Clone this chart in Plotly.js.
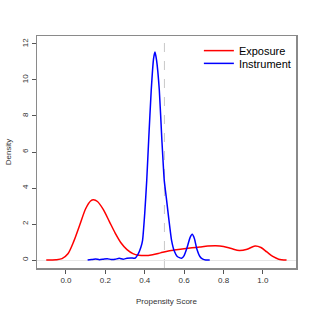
<!DOCTYPE html>
<html>
<head>
<meta charset="utf-8">
<script src="https://cdn.plot.ly/plotly-3.0.1.min.js"></script>
<style>html,body{margin:0;padding:0;background:#fff;}#chart{width:315px;height:315px;}</style>
</head>
<body>
<div id="chart"></div>
<script>
// Exposure propensity score density
const exposureX = [-0.10, -0.05, -0.02, 0.01, 0.04, 0.07, 0.10, 0.125, 0.14, 0.16, 0.19, 0.22, 0.25, 0.28, 0.31, 0.34, 0.37, 0.40, 0.44, 0.48, 0.52, 0.56, 0.60, 0.64, 0.68, 0.72, 0.76, 0.80, 0.84, 0.88, 0.92, 0.96, 0.99, 1.02, 1.05, 1.08, 1.12];
const exposureY = [0.0, 0.02, 0.08, 0.35, 1.05, 1.95, 2.85, 3.28, 3.35, 3.25, 2.8, 2.15, 1.5, 0.95, 0.58, 0.36, 0.27, 0.25, 0.3, 0.4, 0.5, 0.57, 0.63, 0.68, 0.73, 0.78, 0.80, 0.76, 0.64, 0.53, 0.6, 0.78, 0.7, 0.45, 0.2, 0.05, 0.0];
// Instrument propensity score density
const instrumentX = [0.11, 0.13, 0.15, 0.17, 0.19, 0.21, 0.23, 0.25, 0.27, 0.29, 0.31, 0.33, 0.35, 0.365, 0.38, 0.389, 0.40, 0.41, 0.42, 0.433, 0.445, 0.452, 0.46, 0.474, 0.487, 0.499, 0.511, 0.522, 0.536, 0.55, 0.565, 0.587, 0.60, 0.615, 0.63, 0.641, 0.652, 0.665, 0.68, 0.695, 0.71, 0.73];
const instrumentY = [0.0, 0.03, 0.06, 0.02, 0.05, 0.08, 0.03, 0.04, 0.1, 0.05, 0.1, 0.12, 0.1, 0.3, 0.7, 1.1, 2.6, 4.4, 6.67, 9.44, 11.2, 11.55, 11.1, 9.44, 6.67, 4.44, 3.33, 2.3, 1.11, 0.5, 0.2, 0.1, 0.25, 0.7, 1.25, 1.43, 1.2, 0.6, 0.2, 0.05, 0.0, 0.0];
const seriesNames = ["Exposure", "Instrument"];
const xTickVals = [0, 0.2, 0.4, 0.6, 0.8, 1.0];
const xTickText = ["0.0", "0.2", "0.4", "0.6", "0.8", "1.0"];
const yTickVals = [0, 2, 4, 6, 8, 10, 12];
const cutoff = 0.5;

const font = "Liberation Sans, Arial, Helvetica, sans-serif";
const traces = [
  {x: exposureX, y: exposureY, type: "scatter", mode: "lines", name: seriesNames[0],
   line: {color: "#ff0000", width: 1.5, shape: "spline", smoothing: 0.8}, legend: "legend"},
  {x: instrumentX, y: instrumentY, type: "scatter", mode: "lines", name: seriesNames[1],
   line: {color: "#0000ff", width: 1.5, shape: "spline", smoothing: 0.5}, legend: "legend2"}
];
const legendBase = {xanchor: "left", yanchor: "middle", bgcolor: "rgba(0,0,0,0)",
  font: {family: font, size: 11, color: "#000"}, borderwidth: 0, itemwidth: 30};
const layout = {
  width: 315, height: 315,
  margin: {l: 37, r: 19, t: 36, b: 47, pad: 0},
  paper_bgcolor: "#fff", plot_bgcolor: "#fff",
  font: {family: font, size: 8, color: "#333"},
  showlegend: true,
  legend: Object.assign({x: 0.625, y: 0.937}, legendBase),
  legend2: Object.assign({x: 0.625, y: 0.882}, legendBase),
  xaxis: {range: [-0.147, 1.168], tickvals: xTickVals, ticktext: xTickText,
    ticks: "outside", ticklen: 4, tickcolor: "#555", tickwidth: 1,
    showline: true, mirror: true, linecolor: "#8a8a8a", linewidth: 1.5,
    showgrid: false, zeroline: false,
    tickfont: {family: font, size: 8, color: "#333"},
    title: {text: "Propensity Score", font: {family: font, size: 8, color: "#333"}, standoff: 14}},
  yaxis: {range: [-0.44, 12.44], tickvals: yTickVals, tickangle: -90,
    ticks: "outside", ticklen: 4, tickcolor: "#555", tickwidth: 1,
    showline: true, mirror: true, linecolor: "#8a8a8a", linewidth: 1.5,
    showgrid: false, zeroline: true, zerolinecolor: "#e6e6e6", zerolinewidth: 1,
    tickfont: {family: font, size: 8, color: "#333"},
    title: {text: "Density", font: {family: font, size: 8, color: "#333"}, standoff: 8}},
  shapes: [{type: "line", xref: "x", yref: "paper", x0: cutoff, x1: cutoff, y0: 0, y1: 1,
    line: {color: "#c8c8c8", width: 1, dash: "dash"}, layer: "below"}]
};
Plotly.newPlot("chart", traces, layout, {displayModeBar: false, staticPlot: true});
</script>
</body>
</html>
